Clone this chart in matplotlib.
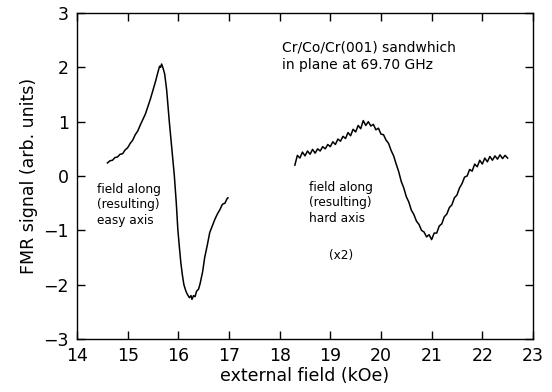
import matplotlib
matplotlib.use("Agg")
import matplotlib.pyplot as plt

# easy axis trace (x in kOe, y in arb. units)
easy_field = [14.60, 14.65, 14.70, 14.75, 14.80, 14.85, 14.90, 14.95, 15.00, 15.05,
              15.10, 15.15, 15.20, 15.25, 15.30, 15.35, 15.40, 15.45, 15.50, 15.55,
              15.60, 15.63, 15.65, 15.67, 15.70, 15.73, 15.77, 15.82, 15.87, 15.92,
              15.96, 15.99, 16.02, 16.05, 16.08, 16.11, 16.15, 16.18, 16.22, 16.25,
              16.27, 16.30, 16.33, 16.36, 16.40, 16.43, 16.48, 16.52, 16.57, 16.62,
              16.67, 16.72, 16.77, 16.82, 16.87, 16.92, 16.96, 16.98]
easy_signal = [0.24, 0.28, 0.29, 0.34, 0.35, 0.40, 0.41, 0.48, 0.52, 0.60,
               0.66, 0.76, 0.83, 0.94, 1.04, 1.14, 1.28, 1.42, 1.58, 1.74,
               1.92, 2.02, 2.00, 2.06, 1.98, 1.88, 1.58, 1.02, 0.52, 0.02,
               -0.50, -0.98, -1.30, -1.60, -1.82, -2.00, -2.12, -2.18, -2.24, -2.20,
               -2.27, -2.20, -2.22, -2.12, -2.08, -1.98, -1.76, -1.50, -1.28, -1.04,
               -0.92, -0.80, -0.70, -0.62, -0.52, -0.50, -0.42, -0.40]

# hard axis trace (multiplied by 2)
hard_field = [18.30, 18.35, 18.40, 18.45, 18.50, 18.55, 18.60, 18.65, 18.70, 18.75,
              18.80, 18.85, 18.90, 18.95, 19.00, 19.05, 19.10, 19.15, 19.20, 19.25,
              19.30, 19.35, 19.40, 19.45, 19.50, 19.55, 19.60, 19.65, 19.70, 19.75,
              19.80, 19.85, 19.90, 19.95, 20.00, 20.05, 20.10, 20.15, 20.20, 20.25,
              20.30, 20.35, 20.40, 20.45, 20.50, 20.55, 20.60, 20.65, 20.70, 20.75,
              20.80, 20.85, 20.90, 20.95, 21.00, 21.05, 21.10, 21.15, 21.20, 21.25,
              21.30, 21.35, 21.40, 21.45, 21.50, 21.55, 21.60, 21.65, 21.70, 21.75,
              21.80, 21.85, 21.90, 21.95, 22.00, 22.05, 22.10, 22.15, 22.20, 22.25,
              22.30, 22.35, 22.40, 22.45, 22.50]
hard_signal = [0.20, 0.38, 0.33, 0.44, 0.37, 0.46, 0.40, 0.49, 0.42, 0.50,
               0.46, 0.54, 0.50, 0.58, 0.54, 0.63, 0.58, 0.68, 0.64, 0.73,
               0.69, 0.80, 0.74, 0.86, 0.81, 0.93, 0.87, 1.02, 0.93, 1.00,
               0.92, 0.95, 0.85, 0.88, 0.77, 0.76, 0.66, 0.60, 0.47, 0.37,
               0.22, 0.08, -0.10, -0.22, -0.38, -0.48, -0.63, -0.71, -0.83, -0.89,
               -1.00, -1.03, -1.12, -1.08, -1.17, -1.05, -1.05, -0.92, -0.88, -0.75,
               -0.70, -0.58, -0.53, -0.40, -0.35, -0.22, -0.14, -0.02, 0.00, 0.12,
               0.09, 0.22, 0.17, 0.29, 0.22, 0.33, 0.26, 0.36, 0.29, 0.37,
               0.31, 0.39, 0.32, 0.38, 0.33]

x_ticks = [14, 15, 16, 17, 18, 19, 20, 21, 22, 23]
y_ticks = [-3, -2, -1, 0, 1, 2, 3]

plt.rcParams['font.family'] = ['DejaVu Sans']

fig = plt.figure(figsize=(5.52, 3.92), dpi=100)
ax = fig.add_axes([0.1395, 0.135, 0.826, 0.832])

ax.plot(easy_field, easy_signal, color='black', lw=1.1)
ax.plot(hard_field, hard_signal, color='black', lw=1.1)

ax.set_xlim(14, 23)
ax.set_ylim(-3, 3)
ax.set_xticks(x_ticks)
ax.set_yticks(y_ticks)
ax.set_yticklabels([str(v).replace('-', '\u2212') for v in y_ticks])
ax.tick_params(direction='in', length=6, width=1, top=True, right=True,
               labelsize=12.5, pad=6)
for s in ax.spines.values():
    s.set_linewidth(1)

ax.set_xlabel('external field (kOe)', fontsize=12.5, labelpad=1)
ax.set_ylabel('FMR signal (arb. units)', fontsize=12.5, labelpad=4)

note = dict(transform=ax.transAxes, va='top', ha='left', color='black')
ax.text(0.45, 0.915, 'Cr/Co/Cr(001) sandwhich\nin plane at 69.70 GHz',
        fontsize=10, linespacing=1.3, **note)
ax.text(0.043, 0.48, 'field along\n(resulting)\neasy axis',
        fontsize=8.7, linespacing=1.25, **note)
ax.text(0.508, 0.485, 'field along\n(resulting)\nhard axis',
        fontsize=8.7, linespacing=1.25, **note)
ax.text(0.553, 0.275, '(x2)', fontsize=8.7, **note)

fig.savefig('out.png', dpi=100)
